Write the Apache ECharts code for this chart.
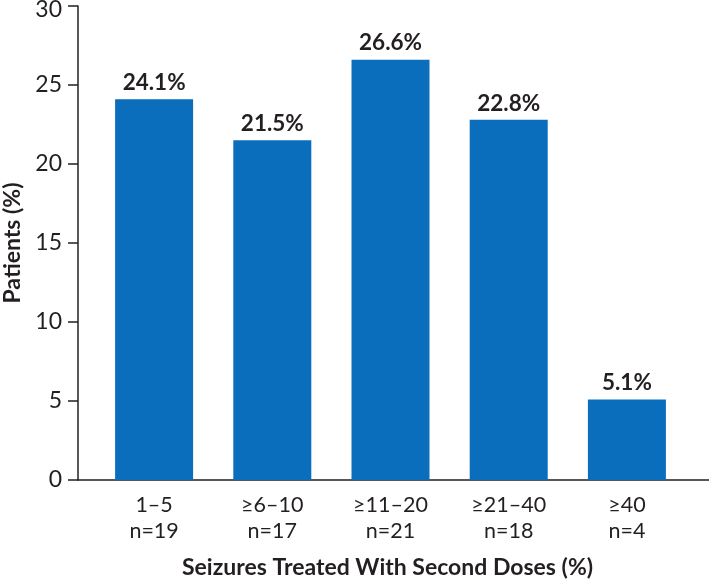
<!DOCTYPE html>
<html>
<head>
<meta charset="utf-8">
<script src="https://cdn.jsdelivr.net/npm/echarts@6/dist/echarts.min.js"></script>
<style>html,body{margin:0;padding:0;background:#fff}#c{width:709px;height:579px}</style>
</head>
<body>
<div id="c"></div>
<script>
var categories = ['1\u20135\nn=19', '\u22656\u201310\nn=17', '\u226511\u201320\nn=21', '\u226521\u201340\nn=18', '\u226540\nn=4'];
var values = [24.1, 21.5, 26.6, 22.8, 5.1];
var yTicks = [0, 5, 10, 15, 20, 25, 30];

var FONT = 'Lato';
var TXT = '#231f20';
var yMax = yTicks[yTicks.length - 1];
var chart = echarts.init(document.getElementById('c'));
chart.setOption({
  animation: false,
  textStyle: { fontFamily: FONT },
  grid: [
    { left: 95, right: 23, top: 6, bottom: 99, containLabel: false, outerBoundsMode: 'none' },
    { left: 78, right: 0, top: 6, bottom: 99, containLabel: false, outerBoundsMode: 'none' }
  ],
  xAxis: [
    {
      type: 'category', data: categories, gridIndex: 0,
      axisLine: { show: false }, axisTick: { show: false },
      axisLabel: { color: TXT, fontSize: 21.5, fontFamily: FONT, lineHeight: 26, margin: 12 },
      name: 'Seizures Treated With Second Doses (%)', nameLocation: 'middle', nameGap: 76,
      nameTextStyle: { color: TXT, fontSize: 23, fontWeight: 'bold', fontFamily: FONT, padding: [0, 6, 0, 0] }
    },
    {
      type: 'value', gridIndex: 1, min: 0, max: 1,
      axisLine: { show: true, lineStyle: { color: TXT, width: 1.5 } },
      axisTick: { show: false }, axisLabel: { show: false }, splitLine: { show: false }
    }
  ],
  yAxis: [
    {
      type: 'value', gridIndex: 0, min: yTicks[0], max: yMax, interval: 5,
      offset: 17,
      axisLine: { show: true, lineStyle: { color: TXT, width: 1.5 } },
      axisTick: { show: true, length: 10, lineStyle: { color: TXT, width: 1.5 } },
      axisLabel: {
        color: TXT, fontSize: 23, fontFamily: FONT, margin: 16,
        formatter: function (v) { return v === yMax ? '{top|' + v + '}' : String(v); },
        rich: { top: { color: TXT, fontSize: 23, fontFamily: FONT, padding: [8, 0, 0, 0] } }
      },
      splitLine: { show: false },
      name: 'Patients (%)', nameLocation: 'middle', nameGap: 51, nameRotate: 90,
      nameTextStyle: { color: TXT, fontSize: 23, fontWeight: 'bold', fontFamily: FONT }
    },
    { type: 'value', gridIndex: 1, show: false, min: 0, max: 30 }
  ],
  series: [{
    type: 'bar', xAxisIndex: 0, yAxisIndex: 0,
    data: values,
    barWidth: 78,
    itemStyle: { color: '#0a6ebd' },
    label: {
      show: true, position: 'top', distance: 5,
      formatter: function (p) { return p.value.toFixed(1) + '%'; },
      color: TXT, fontSize: 22.5, fontWeight: 'bold', fontFamily: FONT
    }
  }]
});
</script>
</body>
</html>
